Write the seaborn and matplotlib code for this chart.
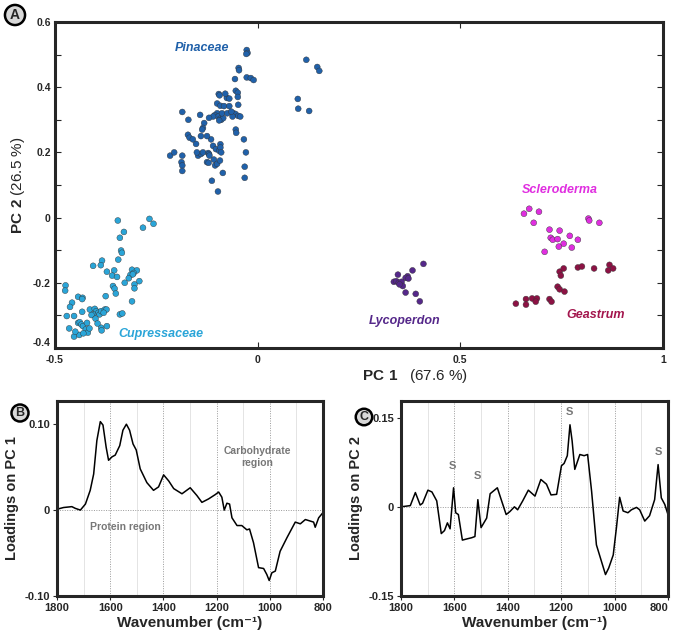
import numpy as np
import pandas as pd
import matplotlib
matplotlib.use("Agg")
import matplotlib.pyplot as plt
import seaborn as sns

# --- score data (PC1, PC2) per group ---
pinaceae_x = [-0.027, -0.025, -0.028, -0.047, -0.046, -0.027, -0.017, -0.010, -0.056, 0.120, 0.147, 0.152,
              0.099, 0.100, 0.127, -0.054, -0.049, -0.049, -0.048, -0.076, -0.096, -0.094, -0.100, -0.092,
              -0.083, -0.070, -0.060, -0.055, -0.048, -0.043, -0.100, -0.106, -0.097, -0.093, -0.090, -0.085,
              -0.095, -0.088, -0.075, -0.110, -0.120, -0.132, -0.135, -0.142, -0.186, -0.171, -0.172, -0.168,
              -0.152, -0.140, -0.137, -0.054, -0.053, -0.034, -0.029, -0.032, -0.032, -0.115, -0.216, -0.206,
              -0.186, -0.188, -0.186, -0.186, -0.147, -0.140, -0.135, -0.122, -0.120, -0.119, -0.125, -0.121,
              -0.108, -0.105, -0.100, -0.110, -0.103, -0.095, -0.092, -0.092, -0.090, -0.086, -0.113, -0.098,
              -0.093, -0.062, -0.070, -0.080, -0.065, -0.125, -0.150, -0.160]
pinaceae_y = [0.514, 0.505, 0.502, 0.459, 0.452, 0.430, 0.428, 0.422, 0.425, 0.484, 0.462, 0.450,
              0.364, 0.334, 0.327, 0.389, 0.383, 0.370, 0.346, 0.367, 0.379, 0.375, 0.350, 0.343,
              0.342, 0.342, 0.320, 0.318, 0.312, 0.310, 0.320, 0.314, 0.310, 0.303, 0.300, 0.305,
              0.298, 0.320, 0.320, 0.310, 0.306, 0.290, 0.275, 0.315, 0.324, 0.300, 0.254, 0.245,
              0.226, 0.250, 0.270, 0.270, 0.260, 0.240, 0.200, 0.156, 0.122, 0.240, 0.190, 0.200,
              0.190, 0.170, 0.160, 0.143, 0.190, 0.195, 0.200, 0.198, 0.195, 0.190, 0.170, 0.168,
              0.178, 0.160, 0.165, 0.220, 0.210, 0.205, 0.225, 0.215, 0.200, 0.137, 0.113, 0.080,
              0.175, 0.310, 0.365, 0.380, 0.325, 0.250, 0.200, 0.240]

cupressaceae_x = [-0.345, -0.267, -0.257, -0.283, -0.330, -0.340, -0.337, -0.335, -0.344, -0.384, -0.406,
                  -0.387, -0.372, -0.354, -0.359, -0.347, -0.310, -0.298, -0.306, -0.314, -0.318, -0.308,
                  -0.292, -0.304, -0.304, -0.328, -0.357, -0.353, -0.350, -0.375, -0.310, -0.474, -0.475,
                  -0.443, -0.432, -0.433, -0.458, -0.463, -0.471, -0.453, -0.433, -0.414, -0.402, -0.398,
                  -0.393, -0.390, -0.386, -0.377, -0.373, -0.380, -0.406, -0.410, -0.340, -0.334, -0.443,
                  -0.439, -0.435, -0.431, -0.424, -0.419, -0.421, -0.386, -0.385, -0.372, -0.453, -0.440,
                  -0.430, -0.415, -0.400, -0.395, -0.465, -0.450]
cupressaceae_y = [-0.009, -0.004, -0.019, -0.031, -0.044, -0.062, -0.101, -0.108, -0.129, -0.132, -0.148,
                  -0.146, -0.166, -0.162, -0.178, -0.182, -0.160, -0.162, -0.170, -0.176, -0.186, -0.174,
                  -0.195, -0.205, -0.217, -0.200, -0.210, -0.218, -0.233, -0.241, -0.257, -0.208, -0.224,
                  -0.243, -0.246, -0.250, -0.261, -0.274, -0.302, -0.302, -0.289, -0.282, -0.280, -0.287,
                  -0.292, -0.297, -0.287, -0.282, -0.282, -0.292, -0.297, -0.299, -0.297, -0.294, -0.323,
                  -0.321, -0.328, -0.333, -0.343, -0.353, -0.323, -0.338, -0.346, -0.333, -0.365, -0.360,
                  -0.355, -0.340, -0.310, -0.325, -0.340, -0.350]

lycoperdon_x = [0.409, 0.382, 0.370, 0.365, 0.372, 0.346, 0.336, 0.342, 0.348, 0.355, 0.358, 0.350, 0.365, 0.390, 0.400]
lycoperdon_y = [-0.142, -0.162, -0.180, -0.185, -0.187, -0.175, -0.197, -0.195, -0.200, -0.197, -0.210, -0.205,
                -0.230, -0.234, -0.257]

scleroderma_x = [0.657, 0.670, 0.694, 0.681, 0.816, 0.818, 0.843, 0.720, 0.745, 0.723, 0.728, 0.740, 0.770,
                 0.790, 0.755, 0.743, 0.775, 0.708]
scleroderma_y = [0.012, 0.027, 0.018, -0.016, -0.003, -0.009, -0.016, -0.037, -0.040, -0.062, -0.068, -0.066,
                 -0.056, -0.068, -0.080, -0.089, -0.092, -0.105]

geastrum_x = [0.637, 0.662, 0.662, 0.677, 0.689, 0.686, 0.720, 0.725, 0.740, 0.745, 0.757, 0.745, 0.755, 0.748,
              0.790, 0.800, 0.830, 0.868, 0.865, 0.877]
geastrum_y = [-0.264, -0.250, -0.267, -0.248, -0.248, -0.258, -0.250, -0.258, -0.212, -0.220, -0.227, -0.166,
              -0.156, -0.178, -0.153, -0.150, -0.156, -0.145, -0.162, -0.156]

groups = ["Pinaceae", "Cupressaceae", "Lycoperdon", "Scleroderma", "Geastrum"]
colors = {"Pinaceae": "#2061aa", "Cupressaceae": "#2aa5d8", "Lycoperdon": "#55288a",
          "Scleroderma": "#e02ee0", "Geastrum": "#8c1244"}
label_colors = {"Pinaceae": "#2061aa", "Cupressaceae": "#2aa5d8", "Lycoperdon": "#55288a",
                "Scleroderma": "#e02ee0", "Geastrum": "#a3164d"}
label_pos = {"Pinaceae": (-0.137, 0.52), "Cupressaceae": (-0.238, -0.357), "Lycoperdon": (0.363, -0.316),
             "Scleroderma": (0.745, 0.085), "Geastrum": (0.833, -0.30)}

# --- loadings ---
wn_pc1 = [1800, 1775, 1744, 1731, 1712, 1693, 1675, 1662, 1650, 1637, 1627, 1615, 1606, 1593, 1581, 1564,
          1552, 1539, 1527, 1514, 1502, 1487, 1462, 1437, 1418, 1399, 1380, 1361, 1330, 1299, 1274, 1255,
          1230, 1205, 1192, 1180, 1171, 1161, 1151, 1142, 1123, 1105, 1086, 1076, 1061, 1042, 1023, 1011,
          1002, 992, 979, 961, 935, 904, 885, 866, 835, 829, 816, 800]
load_pc1 = [0.001, 0.003, 0.004, 0.002, 0.000, 0.007, 0.023, 0.042, 0.081, 0.103, 0.099, 0.073, 0.058, 0.062,
            0.064, 0.075, 0.093, 0.100, 0.093, 0.077, 0.070, 0.048, 0.032, 0.023, 0.027, 0.041, 0.034, 0.025,
            0.019, 0.026, 0.017, 0.009, 0.013, 0.018, 0.021, 0.015, 0.000, 0.008, 0.007, -0.009, -0.018,
            -0.018, -0.023, -0.022, -0.038, -0.067, -0.068, -0.075, -0.082, -0.073, -0.071, -0.048, -0.032,
            -0.014, -0.016, -0.011, -0.014, -0.020, -0.009, -0.003]

wn_pc2 = [1800, 1765, 1746, 1728, 1719, 1699, 1684, 1666, 1649, 1637, 1626, 1616, 1603, 1595, 1585, 1570,
          1553, 1535, 1523, 1512, 1500, 1479, 1466, 1439, 1423, 1406, 1392, 1375, 1363, 1344, 1323, 1298,
          1276, 1255, 1238, 1217, 1199, 1189, 1177, 1167, 1159, 1149, 1130, 1114, 1101, 1086, 1068, 1049,
          1034, 1022, 1005, 993, 981, 968, 950, 937, 918, 906, 887, 869, 850, 837, 825, 812, 800]
load_pc2 = [0.000, 0.002, 0.024, 0.003, 0.006, 0.028, 0.025, 0.010, -0.045, -0.040, -0.027, -0.037, 0.032,
            -0.010, -0.013, -0.056, -0.054, -0.052, -0.050, 0.012, -0.035, -0.019, 0.022, 0.032, 0.010,
            -0.013, -0.008, 0.000, -0.005, 0.010, 0.028, 0.018, 0.046, 0.038, 0.020, 0.021, 0.069, 0.073,
            0.086, 0.138, 0.111, 0.063, 0.088, 0.086, 0.088, 0.026, -0.064, -0.092, -0.114, -0.103, -0.081,
            -0.035, 0.016, -0.007, -0.010, -0.005, -0.001, -0.005, -0.024, -0.015, 0.012, 0.071, 0.015,
            0.004, -0.013]

s_wn = [1606, 1512, 1170, 835]
s_val = [0.069, 0.051, 0.159, 0.093]

sns.set_theme(style="ticks")
plt.rcParams['font.family'] = ['Liberation Sans', 'DejaVu Sans']
plt.rcParams['mathtext.fontset'] = 'custom'
plt.rcParams['mathtext.rm'] = 'Liberation Sans'
plt.rcParams['mathtext.bf'] = 'Liberation Sans:bold'

fig = plt.figure(figsize=(6.75, 6.32), dpi=100)

scores = pd.concat([
    pd.DataFrame({"pc1": pinaceae_x, "pc2": pinaceae_y, "group": "Pinaceae"}),
    pd.DataFrame({"pc1": cupressaceae_x, "pc2": cupressaceae_y, "group": "Cupressaceae"}),
    pd.DataFrame({"pc1": lycoperdon_x, "pc2": lycoperdon_y, "group": "Lycoperdon"}),
    pd.DataFrame({"pc1": scleroderma_x, "pc2": scleroderma_y, "group": "Scleroderma"}),
    pd.DataFrame({"pc1": geastrum_x, "pc2": geastrum_y, "group": "Geastrum"}),
], ignore_index=True)

# Panel A: score plot
axA = fig.add_axes([0.0815, 0.4494, 0.9007, 0.5158])
sns.scatterplot(data=scores, x="pc1", y="pc2", hue="group", palette=colors, s=18,
                edgecolor="#333333", linewidth=0.3, legend=False, ax=axA)
axA.set_xlim(-0.5, 1.0)
axA.set_ylim(-0.4, 0.6)
axA.set_xticks([-0.5, 0, 0.5, 1])
axA.set_xticklabels(["-0.5", "0", "0.5", "1"])
axA.set_yticks([-0.4, -0.2, 0, 0.2, 0.4, 0.6])
axA.set_yticklabels(["-0.4", "-0.2", "0", "0.2", "0.4", "0.6"])
axA.set_yticks(np.arange(-0.3, 0.6, 0.2), minor=True)
axA.tick_params(which="both", direction="in", top=True, right=True, length=4, width=0.8,
                labelsize=7.5)
axA.tick_params(axis="y", pad=3)
axA.tick_params(axis="x", pad=5)
for lab in axA.get_xticklabels() + axA.get_yticklabels():
    lab.set_fontweight("bold")
axA.get_yticklabels()[0].set_verticalalignment("bottom")
for sp in axA.spines.values():
    sp.set_linewidth(2.2)
axA.set_xlabel("")
axA.set_ylabel(r"$\mathbf{PC\ 2}$ (26.5 %)", fontsize=11, labelpad=4)
fig.text(0.615, 0.405, r"$\mathbf{PC\ 1}$   (67.6 %)", fontsize=11, ha="center", va="center")
for g in groups:
    axA.text(*label_pos[g], g, color=label_colors[g], fontsize=9, fontweight="bold",
             fontstyle="italic", ha="center", va="center")


def loading_panel(rect, wn, vals, ylim, yticks, yticklabels, ylabel):
    ax = fig.add_axes(rect)
    for w in [1700, 1500, 1300, 1100, 900]:
        ax.axvline(w, color="#e4e4e4", lw=0.7, zorder=0)
    for w in [1600, 1400, 1200, 1000]:
        ax.axvline(w, color="#999999", lw=0.7, ls=(0, (1, 1.5)), zorder=0)
    ax.axhline(0, color="#999999", lw=0.7, ls=(0, (1, 1.5)), zorder=0)
    sns.lineplot(x=wn, y=vals, color="black", lw=1.1, estimator=None, ax=ax)
    ax.lines[-1].set_solid_joinstyle("round")
    ax.set_xlim(1800, 800)
    ax.set_ylim(*ylim)
    ax.set_xticks([1800, 1600, 1400, 1200, 1000, 800])
    ax.set_yticks(yticks)
    ax.set_yticklabels(yticklabels)
    ax.tick_params(direction="out", length=3, width=0.8, labelsize=8, pad=2)
    for lab in ax.get_xticklabels() + ax.get_yticklabels():
        lab.set_fontweight("bold")
    for sp in ax.spines.values():
        sp.set_linewidth(2.2)
    ax.set_xlabel("Wavenumber (cm⁻¹)", fontsize=11, fontweight="bold", labelpad=2)
    ax.set_ylabel(ylabel, fontsize=10.5, fontweight="bold", labelpad=4)
    return ax


axB = loading_panel([0.0844, 0.0570, 0.394, 0.3085], wn_pc1, load_pc1, (-0.10, 0.127),
                    [-0.10, 0, 0.10], ["-0.10", "0", "0.10"], "Loadings on PC 1")
axB.text(1048, 0.062, "Carbohydrate\nregion", color="#777777", fontsize=7.5, fontweight="bold",
         ha="center", va="center", linespacing=1.3)
axB.text(1543, -0.02, "Protein region", color="#777777", fontsize=7.5, fontweight="bold",
         ha="center", va="center")

axC = loading_panel([0.594, 0.0570, 0.3956, 0.3085], wn_pc2, load_pc2, (-0.15, 0.178),
                    [-0.15, 0, 0.15], ["-0.15", "0", "0.15"], "Loadings on PC 2")
axC.get_xticklabels()[-1].set_horizontalalignment("right")
for w, v in zip(s_wn, s_val):
    axC.text(w, v, "S", color="#777777", fontsize=8, fontweight="bold", ha="center", va="center")

# panel letters
fig.text(15 / 675, 1 - 15 / 632, "A", fontsize=10, fontweight="bold", ha="center", va="center",
         bbox=dict(boxstyle="circle,pad=0.22", fc="#d8d8d8", ec="black", lw=1.8))
fig.text(20 / 675, 1 - 413 / 632, "B", fontsize=9, fontweight="bold", ha="center", va="center",
         bbox=dict(boxstyle="circle,pad=0.2", fc="#d8d8d8", ec="black", lw=1.8))
fig.text(364 / 675, 1 - 417 / 632, "C", fontsize=9, fontweight="bold", ha="center", va="center",
         bbox=dict(boxstyle="circle,pad=0.18", fc="#d8d8d8", ec="black", lw=1.8))

fig.savefig("out.png", dpi=100)
